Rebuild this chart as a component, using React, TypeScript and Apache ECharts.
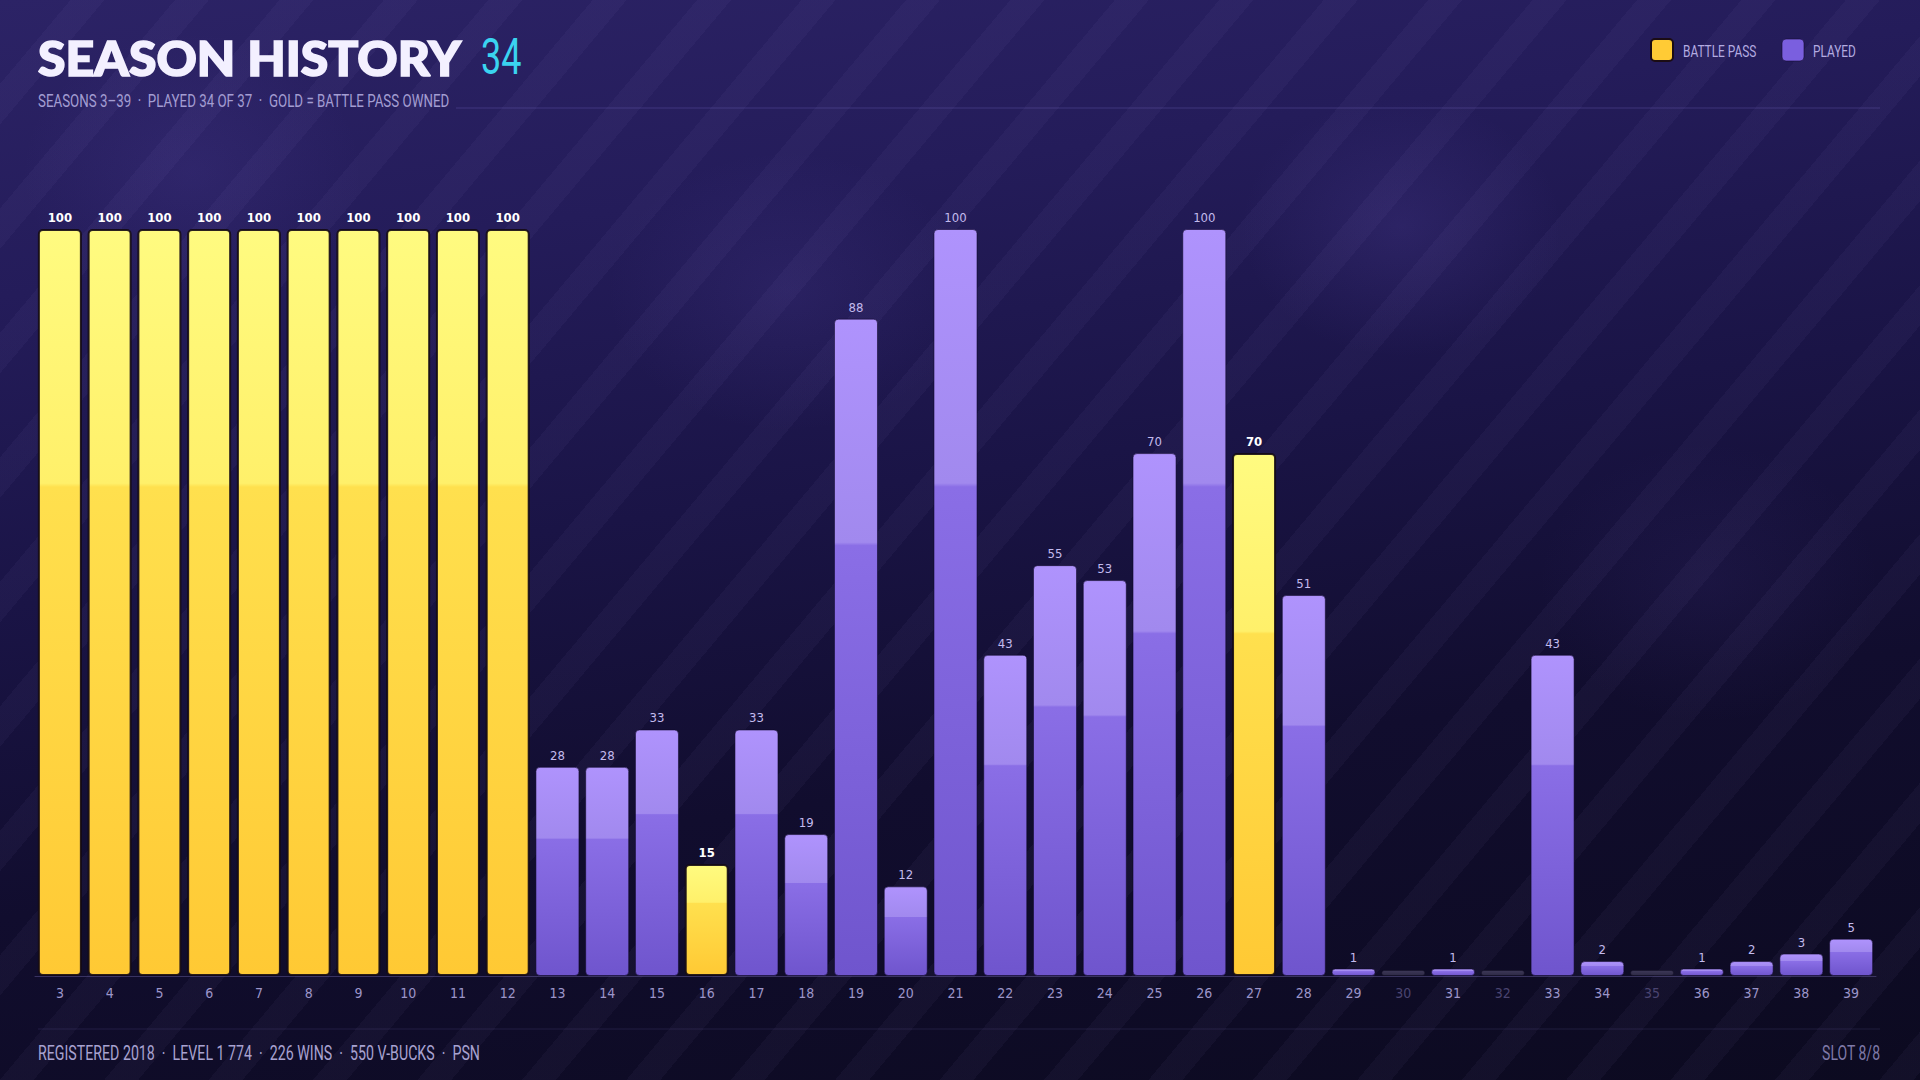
import React, { useEffect, useRef } from "react";
import * as echarts from "echarts";

// ---------- data ----------
const seasons = [
  "3", "4", "5", "6", "7", "8", "9", "10", "11", "12",
  "13", "14", "15", "16", "17", "18", "19", "20", "21", "22",
  "23", "24", "25", "26", "27", "28", "29", "30", "31", "32",
  "33", "34", "35", "36", "37", "38", "39",
];
const progress = [
  100, 100, 100, 100, 100, 100, 100, 100, 100, 100,
  28, 28, 33, 15, 33, 19, 88, 12, 100, 43,
  55, 53, 70, 100, 70, 51, 1, 0, 1, 0,
  43, 2, 0, 1, 2, 3, 5,
];
const battlePassSeasons = ["3", "4", "5", "6", "7", "8", "9", "10", "11", "12", "16", "27"];
const unplayedSeasons = ["30", "32", "35"];
const legendNames = ["BATTLE PASS", "PLAYED"];

const titleText = "SEASON HISTORY";
const titleCount = "34";
const subtitleText = "SEASONS 3–39  ·  PLAYED 34 OF 37  ·  GOLD = BATTLE PASS OWNED";
const footerText = "REGISTERED 2018  ·  LEVEL 1 774  ·  226 WINS  ·  550 V-BUCKS  ·  PSN";
const slotText = "SLOT 8/8";

const COND = "'Liberation Sans Narrow', 'DejaVu Sans Condensed', Roboto, sans-serif";
const ROBOTO = "Roboto, 'Noto Sans', sans-serif";

export default function App() {
  const ref = useRef<HTMLDivElement>(null);

  useEffect(() => {
    if (!ref.current) return;
    const chart = echarts.init(ref.current, undefined, { renderer: "svg" });

    const goldGrad = () =>
      new echarts.graphic.LinearGradient(0, 0, 0, 1, [
        { offset: 0, color: "#fffb80" },
        { offset: 0.34, color: "#fff06a" },
        { offset: 0.345, color: "#ffe04e" },
        { offset: 1, color: "#ffc934" },
      ]);
    const purpleGrad = () =>
      new echarts.graphic.LinearGradient(0, 0, 0, 1, [
        { offset: 0, color: "#af93fd" },
        { offset: 0.34, color: "#a189ee" },
        { offset: 0.345, color: "#8a6ee6" },
        { offset: 1, color: "#6f55cd" },
      ]);
    const greyGrad = () =>
      new echarts.graphic.LinearGradient(0, 0, 0, 1, [
        { offset: 0, color: "#3d3858" },
        { offset: 1, color: "#2e2a46" },
      ]);

    const isPass = (s: string) => battlePassSeasons.includes(s);
    const isUnplayed = (s: string) => unplayedSeasons.includes(s);

    // zero-progress seasons are drawn as a minimal stub (barMinHeight) pointing upward
    const stubValue = (v: number) => (v === 0 ? 1e-6 : v);

    const passData = seasons.map((s, i) => (isPass(s) ? progress[i] : "-"));
    const playedData = seasons.map((s, i) => {
      if (isPass(s)) return "-";
      if (isUnplayed(s))
        return {
          value: stubValue(progress[i]),
          itemStyle: { color: greyGrad(), borderColor: "rgba(8,5,24,0.35)", borderWidth: 1 },
          label: { show: false },
        };
      return progress[i];
    });

    const condText = (
      text: string,
      x: number,
      y: number,
      size: number,
      color: string,
      scaleX: number,
      align = "left"
    ) => ({
      type: "text",
      x,
      y,
      scaleX,
      style: {
        text,
        fill: color,
        fontFamily: ROBOTO,
        fontSize: size,
        align,
        verticalAlign: "middle",
      },
    });

    chart.setOption({
      animation: false,
      backgroundColor: "transparent",
      grid: { left: 35, right: 44, top: 229, bottom: 104, containLabel: false },
      xAxis: {
        type: "category",
        data: seasons.map((s) =>
          isUnplayed(s) ? { value: s, textStyle: { color: "#4a4470" } } : s
        ),
        axisLine: { show: true, lineStyle: { color: "rgba(120,110,180,0.4)", width: 1 } },
        axisTick: { show: false },
        axisLabel: { color: "#9c95c9", fontSize: 14, margin: 10, fontFamily: COND },
      },
      yAxis: { type: "value", min: 0, max: 100, show: false },
      series: [
        {
          name: legendNames[0],
          type: "bar",
          data: passData,
          barWidth: 44,
          barGap: "-100%",
          itemStyle: {
            color: goldGrad(),
            borderColor: "rgba(20,10,20,0.9)",
            borderWidth: 2,
            borderRadius: 4,
          },
          label: {
            show: true,
            position: "top",
            distance: 5,
            color: "#ffffff",
            fontWeight: "bold",
            fontSize: 13,
            fontFamily: COND,
          },
        },
        {
          name: legendNames[1],
          type: "bar",
          data: playedData,
          barWidth: 44,
          barGap: "-100%",
          barMinHeight: 6,
          itemStyle: {
            color: purpleGrad(),
            borderColor: "rgba(14,8,40,0.55)",
            borderWidth: 1,
            borderRadius: 4,
          },
          label: {
            show: true,
            position: "top",
            distance: 5,
            color: "#c3bbee",
            fontSize: 13,
            fontFamily: COND,
          },
        },
      ],
      graphic: [
        {
          type: "text",
          x: 38,
          y: 58,
          scaleX: 1.06,
          style: {
            text: titleText,
            fill: "#f3f0ff",
            stroke: "#f3f0ff",
            lineWidth: 1.6,
            fontFamily: "Lato, Inter, Roboto, sans-serif",
            fontWeight: 900,
            fontSize: 47,
            align: "left",
            verticalAlign: "middle",
          },
        },
        condText(titleCount, 481, 57, 50, "#3ad4f0", 0.72),
        condText(subtitleText, 38, 101, 18, "#a39dd2", 0.74),
        {
          type: "line",
          shape: { x1: 456, y1: 108, x2: 1880, y2: 108 },
          style: { stroke: "rgba(130,115,210,0.28)", lineWidth: 1 },
        },
        {
          type: "rect",
          shape: { x: 1651, y: 39, width: 22, height: 22, r: 4 },
          style: { fill: "#ffcb35", stroke: "#1b0c14", lineWidth: 2 },
        },
        condText(legendNames[0], 1683, 51, 17, "#b3abe0", 0.7),
        {
          type: "rect",
          shape: { x: 1782, y: 39, width: 22, height: 22, r: 4 },
          style: { fill: "#7a5fdf", stroke: "rgba(20,10,50,0.6)", lineWidth: 1 },
        },
        condText(legendNames[1], 1813, 51, 17, "#b3abe0", 0.7),
        {
          type: "line",
          shape: { x1: 38, y1: 1029, x2: 1880, y2: 1029 },
          style: { stroke: "rgba(120,110,190,0.18)", lineWidth: 1 },
        },
        condText(footerText, 38, 1053, 20, "#a8a2d0", 0.71),
        condText(slotText, 1880, 1053, 20, "#7f79a8", 0.7, "right"),
      ],
    });

    return () => chart.dispose();
  }, []);

  const bg = [
    "repeating-linear-gradient(130deg, rgba(255,255,255,0) 0px, rgba(255,255,255,0) 54px, rgba(190,170,255,0.04) 54px, rgba(190,170,255,0.04) 80px)",
    "radial-gradient(ellipse 160px 130px at 73% 21%, rgba(110,90,200,0.16), rgba(110,90,200,0))",
    "radial-gradient(ellipse 180px 140px at 41% 27%, rgba(110,90,200,0.12), rgba(110,90,200,0))",
    "radial-gradient(ellipse 170px 140px at 10% 16%, rgba(110,90,200,0.12), rgba(110,90,200,0))",
    "radial-gradient(ellipse 170px 140px at 89% 54%, rgba(90,70,170,0.10), rgba(90,70,170,0))",
    "linear-gradient(172deg, #2c2366 0%, #241c5a 22%, #1a1446 45%, #110d2e 68%, #0c0a20 100%)",
  ].join(", ");

  return (
    <div
      style={{
        position: "fixed",
        left: 0,
        top: 0,
        width: 1920,
        height: 1080,
        background: bg,
      }}
    >
      <div ref={ref} style={{ width: 1920, height: 1080 }} />
    </div>
  );
}
